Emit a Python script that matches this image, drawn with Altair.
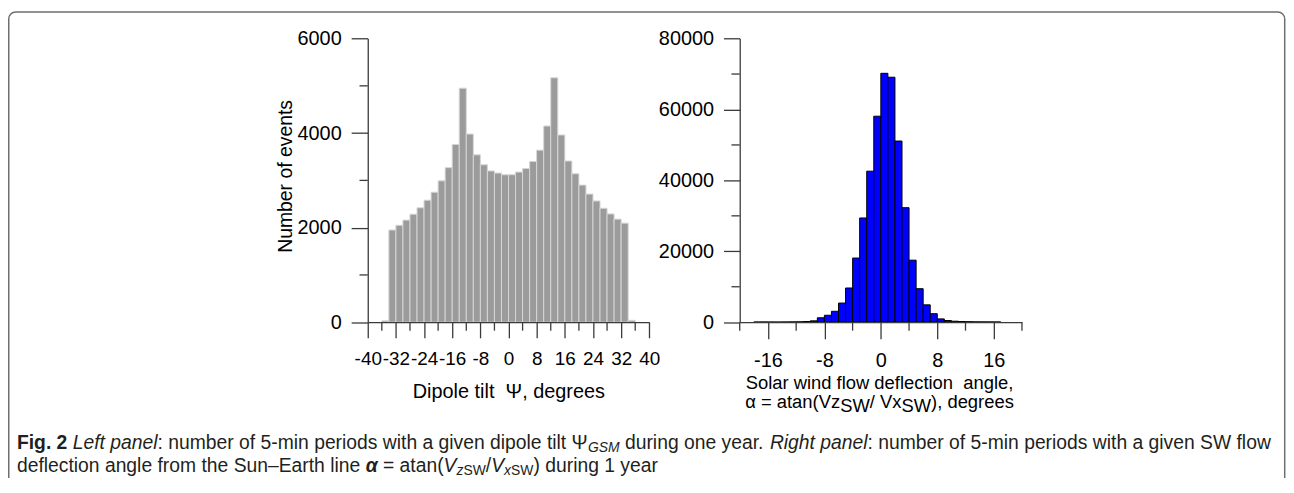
import altair as alt
import pandas as pd

# ---------------- data ----------------
tilt_bin_start = list(range(-36, 36, 2))          # dipole tilt, 2-degree bins
tilt_counts = [30, 1950, 2050, 2160, 2285, 2420, 2580, 2750, 2990, 3270,
               3760, 4950, 3980, 3540, 3330, 3200, 3155, 3120, 3120, 3175,
               3250, 3400, 3640, 4150, 5170, 3960, 3410, 3140, 2900, 2710,
               2565, 2410, 2290, 2180, 2095, 40]
alpha_bin_start = list(range(-18, 17))            # deflection angle, 1-degree bins
alpha_counts = [60, 70, 60, 50, 70, 90, 110, 190, 380, 1250,
                1960, 3080, 5400, 9650, 18100, 29400, 42600, 58100, 70200, 69100,
                51100, 32300, 17500, 9450, 4900, 2400, 930, 470, 280, 190,
                140, 100, 90, 80, 70]

tilt_ticks = [-40, -32, -24, -16, -8, 0, 8, 16, 24, 32, 40]
tilt_minor = [-36, -28, -20, -12, -4, 4, 12, 20, 28, 36]
left_count_ticks = [0, 2000, 4000, 6000]
left_count_minor = [1000, 3000, 5000]
alpha_ticks = [-16, -8, 0, 8, 16]
alpha_minor = [-20, -12, -4, 4, 12, 20]
right_count_ticks = [0, 20000, 40000, 60000, 80000]
right_count_minor = [10000, 30000, 50000, 70000]

# ---------------- layout ----------------
W, H = 1286, 470
FONT = "Liberation Sans"
AX = "#3a3a3a"
Y0, Y1 = 314.7, 29.3
LXR = [362.0, 645.3]
RXR = [736.3, 1020.3]

REG = {' ': 278, '!': 278, '(': 333, ')': 333, ',': 278, '-': 333, '.': 278, '/': 278,
       ':': 278, '=': 584, '–': 556, 'Ψ': 833, 'α': 578,
       'A': 667, 'B': 667, 'C': 722, 'D': 722, 'E': 667, 'F': 611, 'G': 778, 'H': 722,
       'I': 278, 'J': 500, 'K': 667, 'L': 556, 'M': 833, 'N': 722, 'O': 778, 'P': 667,
       'Q': 778, 'R': 722, 'S': 667, 'T': 611, 'U': 722, 'V': 667, 'W': 944, 'X': 667,
       'Y': 667, 'Z': 611,
       'a': 556, 'b': 556, 'c': 500, 'd': 556, 'e': 556, 'f': 278, 'g': 556, 'h': 556,
       'i': 222, 'j': 222, 'k': 500, 'l': 222, 'm': 833, 'n': 556, 'o': 556, 'p': 556,
       'q': 556, 'r': 333, 's': 500, 't': 278, 'u': 556, 'v': 500, 'w': 722, 'x': 500,
       'y': 500, 'z': 500}
BOLD = dict(REG)
BOLD.update({'i': 278, 'g': 611, 'F': 611, 'α': 611})


def tw(s, size, bold=False):
    tab = BOLD if bold else REG
    return sum(tab.get(ch, 556) for ch in s) / 1000.0 * size


STY = {
    'r': dict(weight='normal', style='normal', scale=1.0, dy=0, bold=False),
    'i': dict(weight='normal', style='italic', scale=1.0, dy=0, bold=False),
    'b': dict(weight='bold', style='normal', scale=1.0, dy=0, bold=True),
    'bi': dict(weight='bold', style='italic', scale=1.0, dy=0, bold=True),
    'si': dict(weight='normal', style='italic', scale=0.72, dy=3.5, bold=False),
    'sr': dict(weight='normal', style='normal', scale=0.72, dy=3.5, bold=False),
    'lo': dict(weight='normal', style='normal', scale=1.0, dy=4, bold=False),
}


def layout(segments, size, x0, y, color):
    rows = []
    x = x0
    for s, k in segments:
        st = STY[k]
        fs = size * st['scale']
        lead = len(s) - len(s.lstrip(' '))
        core = s.strip(' ')
        if core:
            rows.append(dict(px=x + tw(' ' * lead, fs, st['bold']), py=y + st['dy'],
                             t=core, k=k, fs=fs, c=color))
        x += tw(s, fs, st['bold'])
    return rows, x - x0


# ---------------- panels ----------------
def panel(starts, width, counts, xdom, xr, ydom, xt, xm, yt, ym, fill, stroke,
          xtick, ytick, xlabel_size):
    df = pd.DataFrame({'start': starts, 'end': [s + width for s in starts], 'n': counts,
                       'base': [0] * len(starts)})
    xs = alt.Scale(domain=xdom, range=xr, nice=False, zero=False)
    ys = alt.Scale(domain=ydom, range=[Y0, Y1], nice=False)
    common = dict(domainColor=AX, tickColor=AX, domainWidth=1.3, tickWidth=1.3,
                  labelFont=FONT, labelColor='black', grid=False,
                  title=None, zindex=1, labelOverlap=False,
                  labelExpr="'' + datum.value")
    bars = alt.Chart(df).mark_rect(fill=fill, stroke=stroke, strokeWidth=1).encode(
        x=alt.X('start:Q', scale=xs,
                axis=alt.Axis(values=xt, orient='bottom', offset=-(H - Y0), tickSize=xtick,
                              labelPadding=12, labelFlush=False, labelFontSize=xlabel_size,
                              **common)),
        x2='end:Q',
        y=alt.Y('n:Q', scale=ys,
                axis=alt.Axis(values=yt, orient='left', offset=-xr[0], tickSize=ytick,
                              labelPadding=10, labelFontSize=20, **common)),
        y2='base:Q',
    )
    xminor = alt.Chart(pd.DataFrame({'v': xm})).mark_rule(color=AX, strokeWidth=1.3).encode(
        x=alt.X('v:Q', scale=xs, axis=None), y=alt.value(Y0), y2=alt.value(Y0 + 8.5))
    yminor = alt.Chart(pd.DataFrame({'v': ym})).mark_rule(color=AX, strokeWidth=1.3).encode(
        y=alt.Y('v:Q', scale=ys, axis=None), x=alt.value(xr[0] - 8.3), x2=alt.value(xr[0]))
    return [bars, xminor, yminor]


left = panel(tilt_bin_start, 2, tilt_counts, [-40, 40], LXR, [0, 6000],
             tilt_ticks, tilt_minor, left_count_ticks, left_count_minor,
             '#9b9b9b', '#d6d6d6', 15.7, 16.7, 19)
right = panel(alpha_bin_start, 1, alpha_counts, [-20, 20], RXR, [0, 80000],
              alpha_ticks, alpha_minor, right_count_ticks, right_count_minor,
              '#0000ff', '#000000', 16.7, 16.3, 20)

# ---------------- texts ----------------
rows = []
seg = [("Dipole tilt", 'r'), ("  Ψ, degrees", 'r')]
_, wd = layout(seg, 20, 0, 0, 'black')
r, _ = layout(seg, 20, 504 - wd / 2, 391, 'black')
rows += r
seg = [("Solar wind flow deflection", 'r'), ("  angle,", 'r')]
_, wd = layout(seg, 18.5, 0, 0, 'black')
r, _ = layout(seg, 18.5, 877 - wd / 2, 382, 'black')
rows += r
seg = [("α = atan(Vz", 'r'), ("SW", 'lo'), ("/ Vx", 'r'), ("SW", 'lo'), ("), degrees", 'r')]
_, wd = layout(seg, 18.5, 0, 0, 'black')
r, _ = layout(seg, 18.5, 877 - wd / 2, 401, 'black')
rows += r
CAP = '#231f20'
L1 = [("Fig. 2", 'b'), (" ", 'r'), ("Left panel", 'i'),
      (": number of 5-min periods with a given dipole tilt Ψ", 'r'), ("GSM", 'si'),
      (" during one year. ", 'r'), ("Right panel", 'i'),
      (": number of 5-min periods with a given SW flow", 'r')]
L2 = [("deflection angle from the Sun–Earth line ", 'r'), ("α", 'bi'), (" = atan(", 'r'),
      ("V", 'i'), ("z", 'si'), ("SW", 'sr'), ("/", 'r'), ("V", 'i'), ("x", 'si'), ("SW", 'sr'),
      (") during 1 year", 'r')]
_, em1 = layout(L1, 1.0, 0, 0, CAP)
cap_size = 1262.0 / em1
r, _ = layout(L1, cap_size, 9, 442, CAP)
rows += r
r, _ = layout(L2, cap_size, 9, 465, CAP)
rows += r

tdf = pd.DataFrame(rows)
text_layers = []
for k, g in tdf.groupby('k'):
    st = STY[k]
    text_layers.append(
        alt.Chart(g.reset_index(drop=True)).mark_text(
            font=FONT, fontWeight=st['weight'], fontStyle=st['style'],
            align='left', baseline='alphabetic').encode(
            x=alt.X('px:Q', scale=None, axis=None),
            y=alt.Y('py:Q', scale=None, axis=None),
            text='t:N',
            size=alt.Size('fs:Q', scale=None, legend=None),
            color=alt.Color('c:N', scale=None, legend=None)))

ytitle = alt.Chart(pd.DataFrame({'px': [285.3], 'py': [168.0], 't': ["Number of events"]})).mark_text(
    font=FONT, fontSize=19.5, angle=270, align='center', baseline='alphabetic', color='black').encode(
    x=alt.X('px:Q', scale=None, axis=None), y=alt.Y('py:Q', scale=None, axis=None), text='t:N')

border = alt.Chart(pd.DataFrame({'a': [0]})).mark_rect(
    fill='transparent', stroke='#6e6e6e', strokeWidth=1.5, cornerRadius=7).encode(
    x=alt.value(0.75), x2=alt.value(1284.7), y=alt.value(2.5), y2=alt.value(H + 30))

chart = alt.layer(border, *left, *right, ytitle, *text_layers).resolve_scale(
    x='independent', y='independent').properties(
    width=W, height=H, autosize=alt.AutoSizeParams(type='none'), padding=0,
    background='white').configure_view(stroke='transparent')

chart.save("out.html", embed_options={"renderer": "svg", "actions": False})
